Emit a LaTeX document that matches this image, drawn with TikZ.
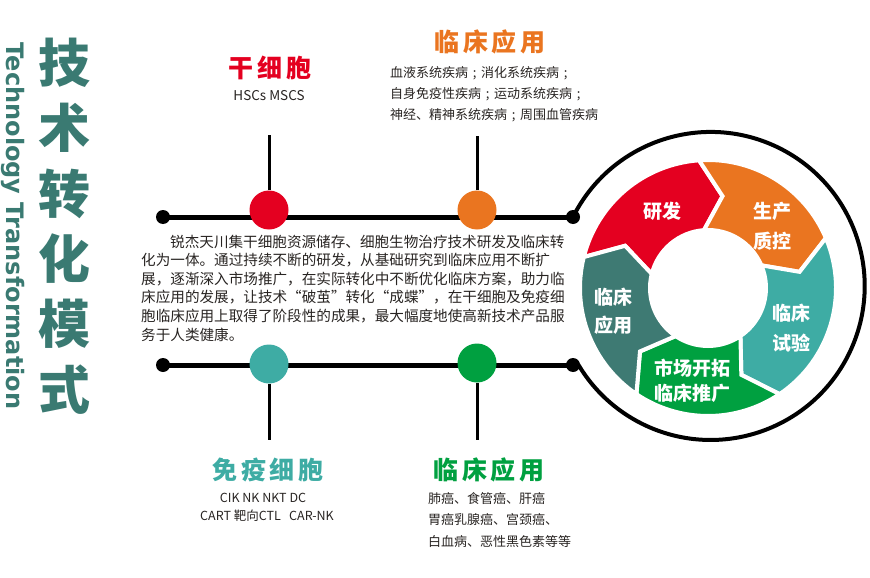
\documentclass[tikz,border=0pt]{standalone}
\usepackage{fontspec}
\setmainfont{Noto Sans CJK SC}
\newfontfamily\enfont{DejaVu Sans}
\definecolor{stemred}{RGB}{228,0,32}
\definecolor{clinorange}{RGB}{234,117,32}
\definecolor{immteal}{RGB}{62,172,164}
\definecolor{clingreen}{RGB}{0,160,64}
\definecolor{darkteal}{RGB}{62,122,115}
\definecolor{titleteal}{RGB}{58,122,114}
\definecolor{bodytext}{RGB}{40,36,34}
\newcommand\openq{\makebox[1em][r]{“}}
\newcommand\closeq{\makebox[1em][l]{”}}
\newcommand\semi{\makebox[1em]{;}}
\begin{document}
\begin{tikzpicture}[x=1pt,y=1pt,yscale=-1,
    endpt/.style={circle,fill=black,inner sep=0pt,minimum size=14pt},
    hub/.style={circle,inner sep=0pt,minimum size=39pt},
    bar/.style={line width=5pt},
    stalk/.style={line width=3pt},
    ring/.style={line width=4pt},
    head/.style={font=\fontsize{25}{25}\selectfont\bfseries\addfontfeatures{LetterSpace=15},inner sep=0pt},
    small/.style={font=\fontsize{13}{13}\selectfont,text=bodytext,anchor=west,inner sep=0pt},
    para/.style={font=\fontsize{14.6}{15}\selectfont,text=bodytext,anchor=west,inner sep=0pt},
    seg/.style={draw=white,line width=4pt},
    seglabel/.style={text=white,align=center,inner sep=0pt,font=\fontsize{19}{30}\selectfont\bfseries}]
    \useasboundingbox (0,0) rectangle (870,578);
    % left title
    \node[text=titleteal,align=center,inner sep=0pt,font=\fontsize{52}{65.4}\selectfont\bfseries] (cntitle) at (64,226) {技\\术\\转\\化\\模\\式};
    \node[text=titleteal,rotate=-90,inner sep=0pt,font=\enfont\bfseries\fontsize{24}{24}\selectfont] (entitle) at (13,226) {Technology Transformation};
    % time lines
    \node[endpt] (topL) at (163,217) {};
    \node[endpt] (topR) at (573,217) {};
    \node[endpt] (botL) at (163,365) {};
    \node[endpt] (botR) at (573,365) {};
    \draw[bar] (topL.center) -- (topR.center);
    \draw[bar] (botL.center) -- (botR.center);
    \draw[ring] (topR.center) arc[start angle=206.6,end angle=509,radius=154] -- (botR.center);
    % hubs and stalks
    \node[hub,fill=stemred] (stem) at (269,210) {};
    \node[hub,fill=clinorange] (clinA) at (477,210) {};
    \node[hub,fill=immteal] (immune) at (269,364) {};
    \node[hub,fill=clingreen] (clinB) at (477,363) {};
    \coordinate (stemtop) at (269,135);
    \coordinate (clinAtop) at (477,136);
    \coordinate (immuneend) at (269,440);
    \coordinate (clinBend) at (477,440);
    \draw[stalk] (stem) -- (stemtop);
    \draw[stalk] (clinA) -- (clinAtop);
    \draw[stalk] (immune) -- (immuneend);
    \draw[stalk] (clinB) -- (clinBend);
    % top labels
    \node[head,text=stemred] (stemtitle) at (270,68) {干细胞};
    \node[inner sep=0pt,text=bodytext,font=\fontsize{13.5}{14}\selectfont] (stemsub) at (269,96) {HSCs MSCS};
    \node[head,text=clinorange] (clinAtitle) at (490,42) {临床应用};
    \node[small] (clinAa) at (390,73) {血液系统疾病\semi 消化系统疾病\semi};
    \node[small] (clinAb) at (390,94) {自身免疫性疾病\semi 运动系统疾病\semi};
    \node[small] (clinAc) at (390,115) {神经、精神系统疾病\semi 周围血管疾病};
    % text block
    \node[para] (para1) at (170,242) {锐杰天川集干细胞资源储存、细胞生物治疗技术研发及临床转};
    \node[para] (para2) at (141,260) {化为一体。通过持续不断的研发，从基础研究到临床应用不断扩};
    \node[para] (para3) at (141,279) {展，逐渐深入市场推广，在实际转化中不断优化临床方案，助力临};
    \node[para] (para4) at (141,297) {床应用的发展，让技术\openq 破茧\closeq 转化\openq 成蝶\closeq ，在干细胞及免疫细};
    \node[para] (para5) at (141,316) {胞临床应用上取得了阶段性的成果，最大幅度地使高新技术产品服};
    \node[para] (para6) at (141,335) {务于人类健康。};
    % bottom labels
    \node[head,text=immteal] (immtitle) at (268,470) {免疫细胞};
    \node[inner sep=0pt,text=bodytext,font=\fontsize{12.5}{13}\selectfont] (immsubA) at (263,498) {CIK NK NKT DC};
    \node[inner sep=0pt,text=bodytext,font=\fontsize{12.5}{13}\selectfont] (immsubB) at (267,516) {CART 靶向CTL\ \ \ CAR-NK};
    \node[head,text=clingreen] (clinBtitle) at (489,470) {临床应用};
    \node[small] (clinBa) at (428,499) {肺癌、食管癌、肝癌};
    \node[small] (clinBb) at (428,520) {胃癌乳腺癌、宫颈癌、};
    \node[small] (clinBc) at (428,542) {白血病、恶性黑色素等等};
    % cycle
    \begin{scope}[shift={(708,288)},yscale=-1]
        \foreach \c/\a/\b in {stemred/166/94,clinorange/94/23,immteal/23/-56,clingreen/-56/-124,darkteal/-124/-194}
            \filldraw[fill=\c,seg] (\a:128) arc[start angle=\a,end angle=\b,radius=128] -- ({\b-13}:93) -- (\b:58) arc[start angle=\b,end angle=\a,radius=58] -- ({\a-13}:93) -- cycle;
    \end{scope}
    \node[seglabel] (rnd) at (662,211) {研发};
    \node[seglabel] (prod) at (772,226) {生产\\质控};
    \node[seglabel] (trial) at (791,328) {临床\\试验};
    \node[seglabel] (market) at (692,381) {市场开拓\\[-5pt]临床推广};
    \node[seglabel] (appl) at (613,311) {临床\\[-2pt]应用};
\end{tikzpicture}
\end{document}
